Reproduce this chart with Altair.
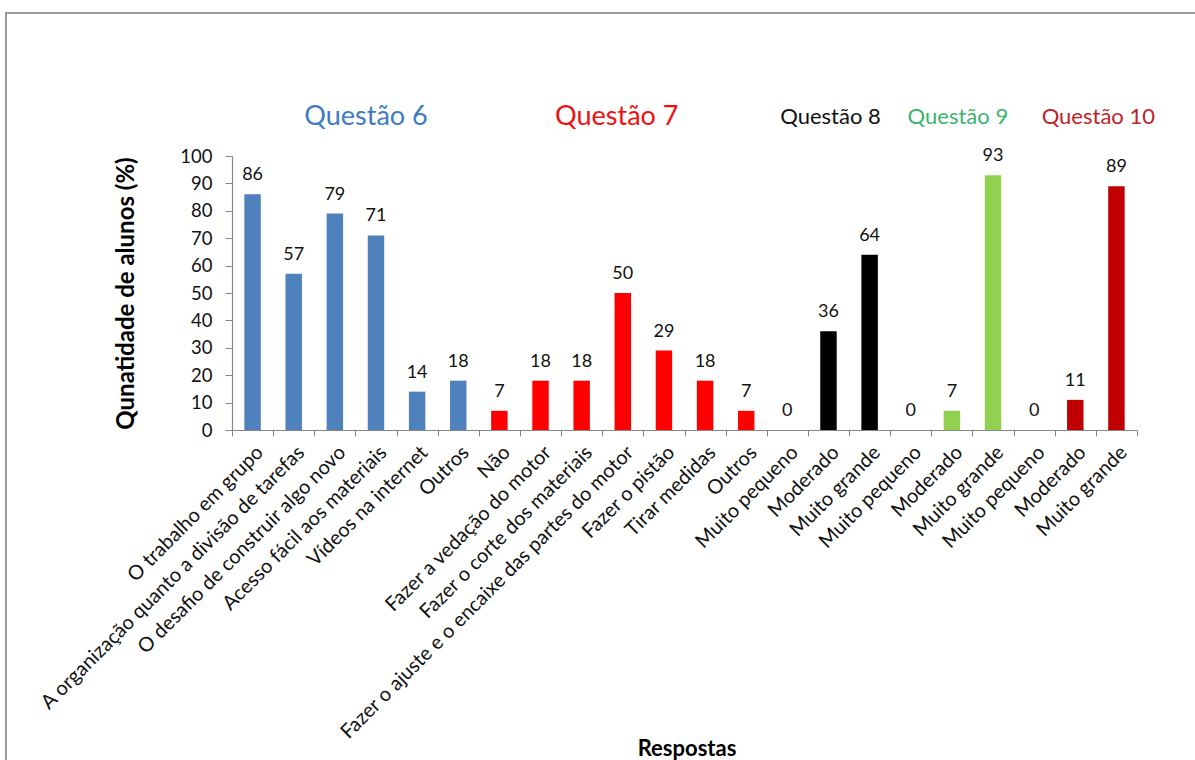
import altair as alt
import pandas as pd

# Respostas (eixo x), na ordem em que aparecem no gráfico
respostas = [
    "O trabalho em grupo",
    "A organização quanto a divisão de tarefas",
    "O desafio de construir algo novo",
    "Acesso fácil aos materiais",
    "Vídeos na internet",
    "Outros",
    "Não",
    "Fazer a vedação do motor",
    "Fazer o corte dos materiais",
    "Fazer o ajuste e o encaixe das partes do motor",
    "Fazer o pistão",
    "Tirar medidas",
    "Outros",
    "Muito pequeno",
    "Moderado",
    "Muito grande",
    "Muito pequeno",
    "Moderado",
    "Muito grande",
    "Muito pequeno",
    "Moderado",
    "Muito grande",
]

# Percentual de alunos por resposta
percentuais = [86, 57, 79, 71, 14, 18,
               7, 18, 18, 50, 29, 18, 7,
               0, 36, 64,
               0, 7, 93,
               0, 11, 89]

# Questão a que pertence cada resposta
questoes = (["Questão 6"] * 6 + ["Questão 7"] * 7 + ["Questão 8"] * 3
            + ["Questão 9"] * 3 + ["Questão 10"] * 3)

ordem_questoes = ["Questão 6", "Questão 7", "Questão 8", "Questão 9", "Questão 10"]
cores_barras = ["#4F81BD", "#FF0000", "#000000", "#92D050", "#C00000"]
cores_titulos = ["#3D7CC2", "#F01010", "#111111", "#3DB36E", "#BE2228"]

# Cabeçalho de cada questão: resposta sobre a qual fica, deslocamento e tamanho
cab_ancora = [3, 9, 14, 17, 20]
cab_dx = [-10, -6, 2, 6, 23]
cab_tamanho = [27, 27, 22, 22, 22]

FONTE = "Lato"
W, H = 905, 274

chaves = [f"{i:02d}" for i in range(len(respostas))]
df = pd.DataFrame({"chave": chaves, "resposta": respostas,
                   "valor": percentuais, "questao": questoes})

rotulos_js = "[" + ",".join("'" + r + "'" for r in respostas) + "]"

x_enc = alt.X(
    "chave:N",
    sort=chaves,
    scale=alt.Scale(paddingInner=0, paddingOuter=0),
    axis=alt.Axis(
        title="Respostas",
        titleFont=FONTE, titleFontSize=22, titleFontWeight="bold", titleColor="#000",
        titleX=W / 2 + 2, titleY=318, titleBaseline="middle",
        labelExpr=rotulos_js + "[toNumber(datum.value)]",
        labelAngle=-45, labelFont=FONTE, labelFontSize=20, labelColor="#111",
        labelPadding=6, labelOverlap=False, labelLimit=0,
        tickBand="extent", tickSize=6, tickColor="#868686",
        domainColor="#868686", domainWidth=1.2,
    ),
)

y_enc = alt.Y(
    "valor:Q",
    scale=alt.Scale(domain=[0, 100], nice=False),
    axis=alt.Axis(
        title="Qunatidade de alunos (%)",
        titleFont=FONTE, titleFontSize=24, titleFontWeight="bold", titleColor="#000",
        titleX=-106, titleY=H / 2, titleAlign="center", titleBaseline="middle",
        values=list(range(0, 101, 10)), grid=False,
        labelFont=FONTE, labelFontSize=18.5, labelColor="#111", labelPadding=13,
        tickSize=7, tickColor="#868686", domainColor="#868686", domainWidth=1.2,
    ),
)

cor = alt.Color("questao:N", scale=alt.Scale(domain=ordem_questoes, range=cores_barras),
                legend=None)

barras = alt.Chart(df).mark_bar(width=alt.RelativeBandSize(0.4)).encode(
    x=x_enc, y=y_enc, color=cor
)

valores = alt.Chart(df).mark_text(
    font=FONTE, fontSize=18, color="#111", baseline="alphabetic", dy=-14
).encode(x=x_enc, y=y_enc, text="valor:Q")

camadas = [barras, valores]

for q, ancora, dx, tam, c in zip(ordem_questoes, cab_ancora, cab_dx, cab_tamanho, cores_titulos):
    cab = alt.Chart(pd.DataFrame({"chave": [chaves[ancora]], "txt": [q]})).mark_text(
        font=FONTE, fontSize=tam, color=c, baseline="middle", align="center", dx=dx
    ).encode(x=alt.X("chave:N", sort=chaves), y=alt.value(-39), text="txt:N")
    camadas.append(cab)

# moldura cinza ao redor do gráfico
moldura = alt.Chart(pd.DataFrame({"m": [0]})).mark_rect(
    fill=None, stroke="#9A9A9A", strokeWidth=2
).encode(x=alt.value(-226), x2=alt.value(975), y=alt.value(-143), y2=alt.value(620))

chart = alt.layer(moldura, *camadas).properties(
    width=W, height=H,
    padding={"left": 232, "top": 156, "right": 1195 - 232 - W, "bottom": 760 - 156 - H},
    autosize=alt.AutoSizeParams(type="none"),
    background="white",
).configure_view(stroke=None)

chart.save("out.html", embed_options={"renderer": "svg", "actions": False})
